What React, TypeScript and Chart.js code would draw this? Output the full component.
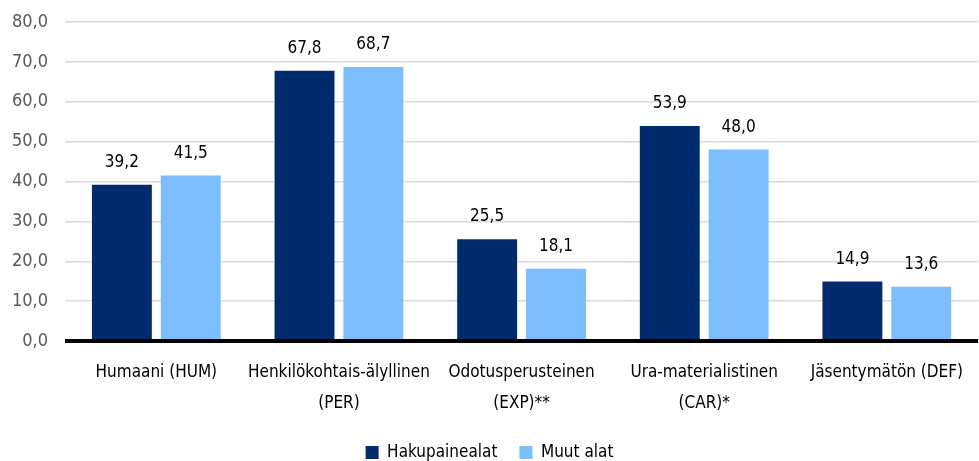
import React, { useEffect, useRef } from "react";
import { Chart, registerables } from "chart.js";

Chart.register(...registerables);

const categories: string[][] = [
  ["Humaani (HUM)"],
  ["Henkilökohtais-älyllinen", "(PER)"],
  ["Odotusperusteinen", "(EXP)**"],
  ["Ura-materialistinen", "(CAR)*"],
  ["Jäsentymätön (DEF)"],
];
const seriesNames = ["Hakupainealat", "Muut alat"];
const hakupainealat = [39.2, 67.8, 25.5, 53.9, 14.9];
const muutAlat = [41.5, 68.7, 18.1, 48.0, 13.6];
const colors = ["#002B6C", "#7BBDFD"];

const FONT = "'Liberation Sans Narrow', 'DejaVu Sans Condensed', 'Roboto', sans-serif";
const fmt = (v: number) => v.toFixed(1).replace(".", ",");

const labelPlugin = {
  id: "valueLabels",
  afterDatasetsDraw(chart: any) {
    const ctx = chart.ctx;
    ctx.save();
    ctx.font = `17px ${FONT}`;
    ctx.fillStyle = "#000000";
    ctx.textAlign = "center";
    ctx.textBaseline = "alphabetic";
    chart.data.datasets.forEach((ds: any, i: number) => {
      const meta = chart.getDatasetMeta(i);
      meta.data.forEach((el: any, j: number) => {
        ctx.fillText(fmt(ds.data[j]), el.x, el.y - 18);
      });
    });
    ctx.restore();
  },
};

const legendShift = {
  id: "legendShift",
  afterLayout(chart: any) {
    const lg = chart.legend;
    if (lg) {
      lg.top += 10;
      lg.bottom += 10;
      if (lg.legendHitBoxes) lg.legendHitBoxes.forEach((h: any) => (h.top += 10));
    }
  },
};

export default function App() {
  const ref = useRef<HTMLCanvasElement>(null);
  useEffect(() => {
    document.body.style.margin = "0";
    const chart = new Chart(ref.current!, {
      type: "bar",
      data: {
        labels: categories,
        datasets: [
          { label: seriesNames[0], data: hakupainealat, backgroundColor: colors[0] },
          { label: seriesNames[1], data: muutAlat, backgroundColor: colors[1] },
        ],
      },
      options: {
        animation: false,
        responsive: false,
        maintainAspectRatio: false,
        layout: { padding: { top: 22, right: 0, left: 0, bottom: 0 } },
        datasets: { bar: { barPercentage: 0.87, categoryPercentage: 0.754 } } as any,
        plugins: {
          tooltip: { enabled: false },
          legend: {
            position: "bottom",
            labels: {
              font: { family: FONT, size: 17 },
              color: "#000000",
              boxWidth: 13,
              boxHeight: 13,
              padding: 22,
            },
          },
        },
        scales: {
          x: {
            grid: { display: false, drawTicks: false },
            border: { display: false },
            afterFit: (s: any) => {
              s.height = 71;
            },
            ticks: {
              autoSkip: false,
              font: { family: FONT, size: 17, lineHeight: 1.82 },
              color: "#000000",
              padding: 16,
              maxRotation: 0,
            },
          },
          y: {
            min: 0,
            max: 80,
            border: { display: false },
            afterFit: (s: any) => {
              s.width = 65;
              s.paddingTop = 0;
              s.paddingBottom = 0;
            },
            grid: {
              color: (c: any) => (c.tick && c.tick.value === 0 ? "#000000" : "#D9D9D9"),
              lineWidth: (c: any) => (c.tick && c.tick.value === 0 ? 4 : 1.5),
              drawTicks: false,
            },
            ticks: {
              stepSize: 10,
              font: { family: FONT, size: 18 },
              color: "#595959",
              padding: 17,
              callback: (v: any) => fmt(Number(v)),
            },
          },
        },
      },
      plugins: [labelPlugin, legendShift],
    });
    return () => chart.destroy();
  }, []);
  return (
    <div style={{ width: 979, height: 461 }}>
      <canvas ref={ref} width={979} height={461} style={{ display: "block" }} />
    </div>
  );
}
